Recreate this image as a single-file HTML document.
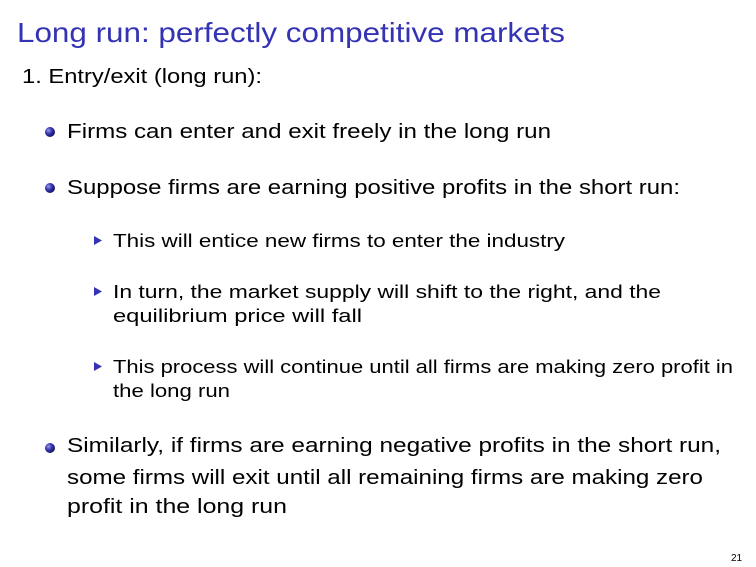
<!DOCTYPE html>
<html><head><meta charset="utf-8">
<style>
html,body{margin:0;padding:0;background:#fff;}
svg{display:block;}
text{font-family:"Liberation Sans",sans-serif;fill:#000;}
</style></head>
<body>
<svg width="756" height="567" viewBox="0 0 756 567">
<defs>
<radialGradient id="ball" cx="0.35" cy="0.35" r="0.7">
<stop offset="0" stop-color="#9a9ae6"/><stop offset="0.5" stop-color="#3333b3"/><stop offset="1" stop-color="#141450"/>
</radialGradient>
</defs>
<text x="17" y="42" font-size="28" textLength="548" lengthAdjust="spacingAndGlyphs" style="fill:#3333b3">Long run: perfectly competitive markets</text>
<text x="22" y="83" font-size="20" textLength="240" lengthAdjust="spacingAndGlyphs">1.  Entry/exit (long run):</text>

<circle cx="50" cy="132" r="5" fill="url(#ball)"/>
<text x="67" y="138" font-size="20" textLength="484" lengthAdjust="spacingAndGlyphs">Firms can enter and exit freely in the long run</text>

<circle cx="50" cy="188" r="5" fill="url(#ball)"/>
<text x="67" y="194" font-size="20" textLength="613" lengthAdjust="spacingAndGlyphs">Suppose firms are earning positive profits in the short run:</text>

<polygon points="94,236 102,240.5 94,245" fill="#3333b3"/>
<text x="113" y="247" font-size="18" textLength="452" lengthAdjust="spacingAndGlyphs">This will entice new firms to enter the industry</text>

<polygon points="94,287 102,291.5 94,296" fill="#3333b3"/>
<text x="113" y="298" font-size="18" textLength="548" lengthAdjust="spacingAndGlyphs">In turn, the market supply will shift to the right, and the</text>
<text x="113" y="322" font-size="18" textLength="249" lengthAdjust="spacingAndGlyphs">equilibrium price will fall</text>

<polygon points="94,362 102,366.5 94,371" fill="#3333b3"/>
<text x="113" y="373" font-size="18" textLength="620" lengthAdjust="spacingAndGlyphs">This process will continue until all firms are making zero profit in</text>
<text x="113" y="397" font-size="18" textLength="117" lengthAdjust="spacingAndGlyphs">the long run</text>

<circle cx="50" cy="448" r="5" fill="url(#ball)"/>
<text x="67" y="452" font-size="20" textLength="654" lengthAdjust="spacingAndGlyphs">Similarly, if firms are earning negative profits in the short run,</text>
<text x="67" y="484" font-size="20" textLength="636" lengthAdjust="spacingAndGlyphs">some firms will exit until all remaining firms are making zero</text>
<text x="67" y="513" font-size="20" textLength="220" lengthAdjust="spacingAndGlyphs">profit in the long run</text>

<text x="731" y="561" font-size="10">21</text>
</svg>
</body></html>
